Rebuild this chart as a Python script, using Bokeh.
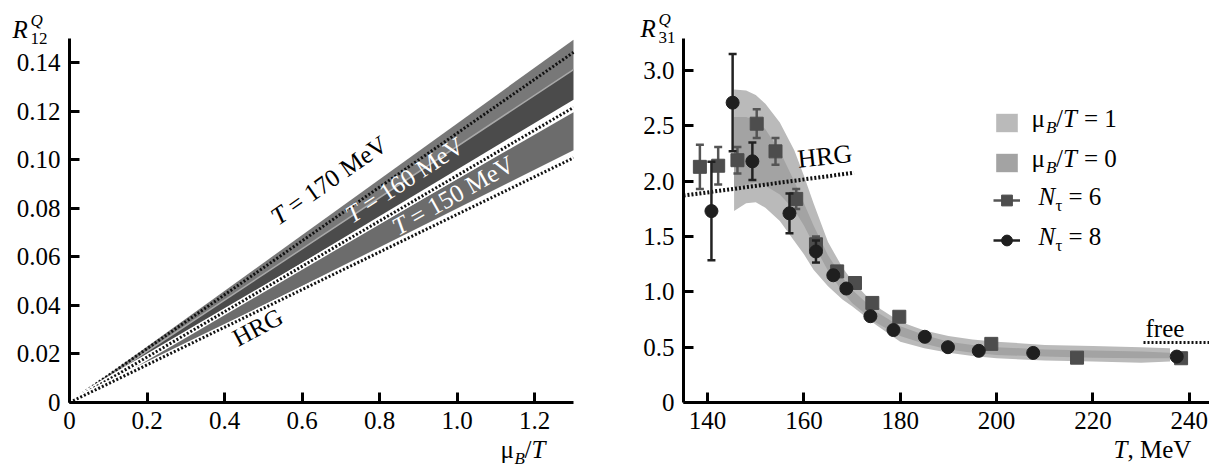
import math
from bokeh.plotting import figure
from bokeh.models import (ColumnDataSource, Range1d, FixedTicker, CustomJSTickFormatter,
                          Label, Legend, LegendItem, LinearAxis)
from bokeh.layouts import row
from bokeh.embed import file_html
from bokeh.resources import INLINE

FONT = "Liberation Serif"

# ---------------- left panel data: R12^Q vs mu_B/T ----------------
mu_grid = [0.0, 1.3]
band170_lo = [0.0, 0.1372]
band170_hi = [0.0, 0.1495]
band160_lo = [0.0, 0.1248]
band160_hi = [0.0, 0.1372]
band150_lo = [0.0, 0.1040]
band150_hi = [0.0, 0.1196]
lo170_line = [0.0, 0.1443]
lo160_line = [0.0, 0.1216]
hrg_left = [0.0, 0.1008]
left_xticks = [0, 0.2, 0.4, 0.6, 0.8, 1.0, 1.2]
left_yticks = [0, 0.02, 0.04, 0.06, 0.08, 0.10, 0.12, 0.14]

# ---------------- right panel data: R31^Q vs T ----------------
band_T = [145.5, 148, 150, 152, 155, 158, 160, 162, 165, 168, 170, 175, 180, 185, 190, 195, 200, 210, 220, 230, 236]
mu1_hi = [2.83, 2.82, 2.78, 2.70, 2.53, 2.28, 2.05, 1.80, 1.45, 1.22, 1.10, 0.87, 0.73, 0.65, 0.60, 0.57, 0.55, 0.52, 0.51, 0.50, 0.49]
mu1_lo = [1.73, 1.80, 1.81, 1.76, 1.64, 1.46, 1.34, 1.20, 1.05, 0.93, 0.87, 0.70, 0.55, 0.49, 0.45, 0.42, 0.40, 0.38, 0.37, 0.36, 0.37]
mu0_hi = [2.58, 2.58, 2.55, 2.47, 2.27, 2.00, 1.80, 1.60, 1.33, 1.13, 1.02, 0.82, 0.69, 0.61, 0.55, 0.52, 0.50, 0.48, 0.47, 0.46, 0.45]
mu0_lo = [1.94, 1.97, 1.99, 1.96, 1.88, 1.74, 1.60, 1.43, 1.19, 1.00, 0.90, 0.72, 0.60, 0.53, 0.48, 0.45, 0.43, 0.415, 0.405, 0.40, 0.40]

T6 = [138.4, 142.2, 146.2, 150.2, 154.1, 158.4, 162.5, 166.9, 170.6, 174.2, 179.8, 198.9, 216.7, 238.3]
R6 = [2.13, 2.14, 2.19, 2.52, 2.27, 1.84, 1.43, 1.185, 1.08, 0.90, 0.775, 0.53, 0.405, 0.40]
E6 = [0.20, 0.17, 0.12, 0.13, 0.12, 0.09, 0.07, 0.04, 0.03, 0.04, 0.04, 0.02, 0.02, 0.02]

T8 = [140.8, 145.2, 149.3, 157.0, 162.5, 166.1, 168.8, 173.8, 178.6, 185.1, 189.9, 196.3, 207.6, 237.4]
R8 = [1.73, 2.71, 2.18, 1.71, 1.365, 1.15, 1.03, 0.78, 0.655, 0.594, 0.50, 0.467, 0.448, 0.415]
E8 = [0.445, 0.44, 0.17, 0.18, 0.10, 0.04, 0.03, 0.02, 0.02, 0.02, 0.02, 0.02, 0.02, 0.02]

hrg_T = [135.0, 170.4]
hrg_R = [1.87, 2.077]
free_T = [230.5, 244.2]
free_R = [0.543, 0.543]
right_xticks = [140, 160, 180, 200, 220, 240]
right_yticks = [0, 0.5, 1.0, 1.5, 2.0, 2.5, 3.0]

# ---------------- geometry (page pixels) ----------------
H = 468
FRAME_TOP, FRAME_BOT = 38, 402
L_X0, L_X1, L_Y0, L_Y1 = 0.0, 1.3, 0.0, 0.15
L_PX0, L_PX1, L_WIDTH = 69, 573, 600
R_X0, R_X1, R_Y0, R_Y1 = 135.0, 244.2, 0.0, 3.29
R_PX0, R_PX1, R_OFF, R_WIDTH = 683, 1209, 600, 609
BASE_FIX = 0.36   # renderer draws alphabetic baseline ~0.36 em low; compensate


def mk_map(v0, v1, p0, p1):
    k = (v1 - v0) / (p1 - p0)
    return lambda px: v0 + (px - p0) * k


lx = mk_map(L_X0, L_X1, L_PX0, L_PX1)
ly = mk_map(L_Y0, L_Y1, FRAME_BOT, FRAME_TOP)
rx = mk_map(R_X0, R_X1, R_PX0, R_PX1)
ry = mk_map(R_Y0, R_Y1, FRAME_BOT, FRAME_TOP)


def style_axis(ax, ticks, code):
    ax.ticker = FixedTicker(ticks=ticks)
    ax.formatter = CustomJSTickFormatter(code=code)
    ax.axis_line_width = 3
    ax.axis_line_color = "black"
    ax.major_tick_line_width = 3
    ax.major_tick_line_color = "black"
    ax.major_tick_in = 10
    ax.major_tick_out = 0
    ax.minor_tick_in = 0
    ax.minor_tick_out = 0
    ax.major_label_text_font = FONT
    ax.major_label_text_font_size = "25px"
    ax.major_label_text_color = "black"
    ax.major_label_standoff = 9


def lbl(p, x, y, text, size=25, style="normal", color="black", angle=0.0, xo=0.0, yo=0.0):
    a = math.radians(angle)
    s = BASE_FIX * size
    p.add_layout(Label(x=x, y=y, text=text, text_font=FONT, text_font_size=f"{size}px",
                       text_font_style=style, text_color=color, angle=angle, angle_units="deg",
                       text_align="left", text_baseline="alphabetic",
                       x_offset=xo - s * math.sin(a), y_offset=yo + s * math.cos(a)))


def rotated_T_label(p, x, y, rest, angle, color, size=25):
    w = 0.556 * size + 0.25 * size
    lbl(p, x, y, "T", size=size, style="italic", color=color, angle=angle)
    a = math.radians(angle)
    lbl(p, x, y, rest, size=size, color=color, angle=angle, xo=w * math.cos(a), yo=w * math.sin(a))


def base_fig(width, xr, yr):
    p = figure(width=width, height=H, output_backend="svg", toolbar_location=None,
               x_range=Range1d(*xr), y_range=Range1d(*yr),
               x_axis_location=None, y_axis_location=None,
               min_border=0, min_border_left=0, min_border_right=0,
               min_border_top=0, min_border_bottom=0,
               background_fill_color="white", border_fill_color="white")
    p.grid.visible = False
    p.outline_line_color = None
    return p


# ================= LEFT FIGURE =================
p1 = base_fig(L_WIDTH, (lx(0), lx(L_WIDTH)), (ly(H), ly(0)))
xa1 = LinearAxis(fixed_location=0, bounds=(L_X0, L_X1))
ya1 = LinearAxis(fixed_location=0, bounds=(L_Y0, L_Y1))
style_axis(xa1, left_xticks, "return tick == 0 ? '0' : tick.toFixed(1);")
style_axis(ya1, left_yticks, "return tick == 0 ? '0' : tick.toFixed(2);")

lsrc = ColumnDataSource(dict(mu=mu_grid, b170l=band170_lo, b170h=band170_hi,
                             b160l=band160_lo, b160h=band160_hi,
                             b150l=band150_lo, b150h=band150_hi,
                             l170=lo170_line, l160=lo160_line, hrg=hrg_left))
p1.varea(x="mu", y1="b170l", y2="b170h", source=lsrc, fill_color="#787878")
p1.varea(x="mu", y1="b160l", y2="b160h", source=lsrc, fill_color="#4b4b4b")
p1.line(x="mu", y="b160h", source=lsrc, line_color="#a8a8a8", line_width=1.5)
p1.line(x="mu", y="l170", source=lsrc, line_color="#111111", line_width=3, line_dash="2 2")
p1.varea(x="mu", y1="b150l", y2="b150h", source=lsrc, fill_color="#6c6c6c")
p1.line(x="mu", y="l160", source=lsrc, line_color="white", line_width=6)
p1.line(x="mu", y="l160", source=lsrc, line_color="#111111", line_width=3, line_dash="2 2")
p1.line(x="mu", y="hrg", source=lsrc, line_color="white", line_width=6)
p1.line(x="mu", y="hrg", source=lsrc, line_color="#111111", line_width=3, line_dash="2 2")

p1.add_layout(xa1, "below")
p1.add_layout(ya1, "left")

rotated_T_label(p1, lx(278), ly(226), "= 170 MeV", 35, "black")
rotated_T_label(p1, lx(352), ly(224), "= 160 MeV", 33, "white")
rotated_T_label(p1, lx(398), ly(236), "= 150 MeV", 29.5, "white")
lbl(p1, lx(238), ly(347), "HRG", angle=28)
lbl(p1, lx(12), ly(38), "R", style="italic")
lbl(p1, lx(30), ly(26), "Q", size=17, style="italic")
lbl(p1, lx(30), ly(44), "12", size=17)
lbl(p1, lx(500), ly(458), "\u03bc")
lbl(p1, lx(514), ly(464), "B", size=17, style="italic")
lbl(p1, lx(524), ly(458), "/")
lbl(p1, lx(531), ly(458), "T", style="italic")

# ================= RIGHT FIGURE =================
p2 = base_fig(R_WIDTH, (rx(R_OFF), rx(R_OFF + R_WIDTH)), (ry(H), ry(0)))
xa2 = LinearAxis(fixed_location=0, bounds=(R_X0, R_X1))
ya2 = LinearAxis(fixed_location=R_X0, bounds=(R_Y0, R_Y1))
style_axis(xa2, right_xticks, "return tick.toFixed(0);")
style_axis(ya2, right_yticks, "return tick == 0 ? '0' : tick.toFixed(1);")

bsrc = ColumnDataSource(dict(T=band_T, a_lo=mu1_lo, a_hi=mu1_hi, b_lo=mu0_lo, b_hi=mu0_hi))
r_mu1 = p2.varea(x="T", y1="a_lo", y2="a_hi", source=bsrc, fill_color="#bababa")
r_mu0 = p2.varea(x="T", y1="b_lo", y2="b_hi", source=bsrc, fill_color="#a3a3a3")

p2.line(x=hrg_T, y=hrg_R, line_color="#111111", line_width=4, line_dash="2 2")
p2.line(x=free_T, y=free_R, line_color="#111111", line_width=3, line_dash="2 2")

s6 = ColumnDataSource(dict(T=T6, R=R6, lo=[r - e for r, e in zip(R6, E6)],
                           hi=[r + e for r, e in zip(R6, E6)]))
s8 = ColumnDataSource(dict(T=T8, R=R8, lo=[r - e for r, e in zip(R8, E8)],
                           hi=[r + e for r, e in zip(R8, E8)]))

seg6 = p2.segment(x0="T", y0="lo", x1="T", y1="hi", source=s6, line_color="#555555", line_width=2.5)
p2.scatter(x="T", y="hi", source=s6, marker="dash", size=8, line_color="#555555", line_width=2.5)
p2.scatter(x="T", y="lo", source=s6, marker="dash", size=8, line_color="#555555", line_width=2.5)
sq6 = p2.scatter(x="T", y="R", source=s6, marker="square", size=13, fill_color="#4d4d4d",
                 line_color="#4d4d4d")

seg8 = p2.segment(x0="T", y0="lo", x1="T", y1="hi", source=s8, line_color="#222222", line_width=2.5)
p2.scatter(x="T", y="hi", source=s8, marker="dash", size=8, line_color="#222222", line_width=2.5)
p2.scatter(x="T", y="lo", source=s8, marker="dash", size=8, line_color="#222222", line_width=2.5)
ci8 = p2.scatter(x="T", y="R", source=s8, marker="circle", size=13, fill_color="#1f1f1f",
                 line_color="#1f1f1f")

p2.add_layout(xa2, "below")
p2.add_layout(ya2, "left")

legA = Legend(items=[LegendItem(label=" ", renderers=[r_mu1]),
                     LegendItem(label=" ", renderers=[r_mu0])],
              location=(993 - R_OFF, H - 173.5), glyph_width=27, glyph_height=23,
              spacing=17, padding=0, margin=0, label_standoff=0, label_text_font_size="6px",
              border_line_color=None, background_fill_alpha=0)
legB = Legend(items=[LegendItem(label=" ", renderers=[seg6, sq6]),
                     LegendItem(label=" ", renderers=[seg8, ci8])],
              location=(993 - R_OFF, H - 256), glyph_width=27, glyph_height=32,
              spacing=8, padding=0, margin=0, label_standoff=0, label_text_font_size="6px",
              border_line_color=None, background_fill_alpha=0)
p2.add_layout(legA)
p2.add_layout(legB)

for base, val in ((127, "1"), (167, "0")):
    lbl(p2, rx(1031), ry(base), "\u03bc")
    lbl(p2, rx(1045.5), ry(base + 6), "B", size=17, style="italic")
    lbl(p2, rx(1055.5), ry(base), "/")
    lbl(p2, rx(1062.5), ry(base), "T", style="italic")
    lbl(p2, rx(1083.5), ry(base), "= " + val)
for base, val in ((205, "6"), (245, "8")):
    lbl(p2, rx(1038), ry(base), "N", style="italic")
    lbl(p2, rx(1055), ry(base + 6), "\u03c4", size=17)
    lbl(p2, rx(1068), ry(base), "= " + val)

lbl(p2, rx(798), ry(168), "HRG", size=26, angle=6)
lbl(p2, rx(1145), ry(337), "free")
lbl(p2, rx(640), ry(37), "R", style="italic")
lbl(p2, rx(658), ry(25), "Q", size=17, style="italic")
lbl(p2, rx(658), ry(43), "31", size=17)
lbl(p2, rx(1113), ry(458), "T", style="italic")
lbl(p2, rx(1113 + 13.9), ry(458), ", MeV")

layout = row(p1, p2)
open("out.html", "w").write(file_html(layout, INLINE))
